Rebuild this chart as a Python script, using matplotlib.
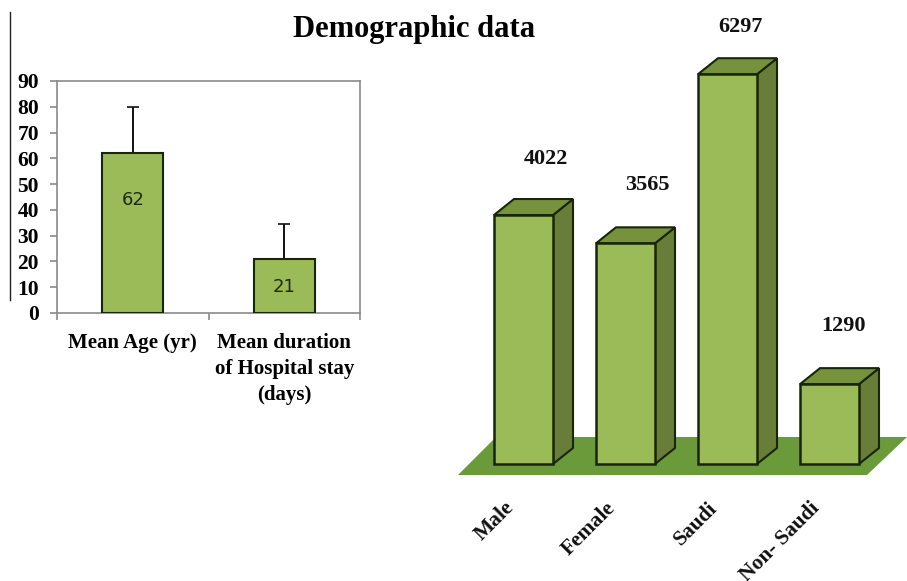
import matplotlib
matplotlib.use('Agg')
import matplotlib.pyplot as plt
from matplotlib.patches import Polygon
from matplotlib.lines import Line2D

plt.rcParams['font.family'] = ['Liberation Serif', 'DejaVu Serif']
plt.rcParams['font.weight'] = 'bold'

# mean values with upper error bars
mean_labels = ['Mean Age (yr)', 'Mean duration\nof Hospital stay\n(days)']
mean_values = [62, 21]
mean_errors = [18, 13.5]
mean_ticks = [0, 10, 20, 30, 40, 50, 60, 70, 80, 90]

# patient counts
count_labels = ['Male', 'Female', 'Saudi', 'Non- Saudi']
count_values = [4022, 3565, 6297, 1290]

W, H = 907, 581
FRONT = '#9bbb59'
SIDE = '#687d38'
TOP = '#76923c'
FLOOR = '#6b9a3b'
EDGE = '#17260a'
GRAY = '#8a8a8a'


def px_axes(fig, x0, y0, x1, y1):
    # axes from pixel box, y measured from the top of the image
    return fig.add_axes([x0 / W, 1 - y1 / H, (x1 - x0) / W, (y1 - y0) / H])


fig = plt.figure(figsize=(W / 100, H / 100), dpi=100)

# left chart
ax = px_axes(fig, 57, 81, 360, 313)
xs = range(len(mean_values))
ax.bar(xs, mean_values, width=0.4, color=FRONT, edgecolor=EDGE, linewidth=1.5, zorder=3)
ax.errorbar(xs, mean_values, yerr=[[0, 0], mean_errors], fmt='none', ecolor='#111111',
            elinewidth=1.4, capsize=4, capthick=1.2, zorder=2)
inside_y = [44, 10]
for x, v, y in zip(xs, mean_values, inside_y):
    ax.text(x, y, str(v), ha='center', va='center', fontsize=13,
            family='DejaVu Sans', weight='normal', color='#1c2a10', zorder=4)
ax.set_xlim(-0.5, 1.5)
ax.set_ylim(0, 90)
ax.set_yticks(mean_ticks)
ax.set_xticks(list(xs))
ax.set_xticklabels(mean_labels, fontsize=15, linespacing=1.38)
ax.set_xticks([-0.5, 0.5, 1.5], minor=True)
ax.tick_params(axis='x', which='major', length=0, pad=14.5)
ax.tick_params(axis='x', which='minor', length=5, color=GRAY, width=1.2)
ax.tick_params(axis='y', length=5, color=GRAY, width=1.2, labelsize=15.5, pad=8)
for s in ax.spines.values():
    s.set_color(GRAY)
    s.set_linewidth(1.2)

# stray rule at the far left
fig.add_artist(Line2D([10 / W, 10 / W], [1 - 12 / H, 1 - 300 / H], color='#222222', lw=1))

fig.text(414 / W, 1 - 29 / H, 'Demographic data', ha='center', va='center', fontsize=22)

# right chart: oblique bars, one category is 102 px wide, 0.0619 px per count
bx = px_axes(fig, 0, 0, W, H)
PX_X = 1 / 102
PX_Y = 1 / 0.0619
base_px = 464
bx.set_xlim(-523.5 * PX_X, (W - 523.5) * PX_X)
bx.set_ylim(-(H - base_px) * PX_Y, base_px * PX_Y)
bx.axis('off')
bx.patch.set_alpha(0)

half = 29.5 * PX_X
dx = 20 * PX_X
dy = 16 * PX_Y

n = len(count_values)
floor_front = -11 * PX_Y
floor_back = 27 * PX_Y
bx.add_patch(Polygon([(-half - 36 * PX_X, floor_front), (n - 1 + half + 8 * PX_X, floor_front),
                      (n - 1 + half + 48 * PX_X, floor_back), (-half + 2 * PX_X, floor_back)],
                     closed=True, facecolor=FLOOR, edgecolor='none', zorder=1))

label_gap = [56, 58, 47, 58]
label_shift = [22, 22, 13, 14]
for i, v in enumerate(count_values):
    l, r = i - half, i + half
    bx.add_patch(Polygon([(r, 0), (r + dx, dy), (r + dx, v + dy), (r, v)], closed=True,
                         facecolor=SIDE, edgecolor=EDGE, linewidth=1.5, zorder=2))
    bx.add_patch(Polygon([(l, v), (l + dx, v + dy), (r + dx, v + dy), (r, v)], closed=True,
                         facecolor=TOP, edgecolor=EDGE, linewidth=1.5, zorder=2))
    bx.add_patch(Polygon([(l, 0), (r, 0), (r, v), (l, v)], closed=True,
                         facecolor=FRONT, edgecolor=EDGE, linewidth=1.8, zorder=3))
    bx.text(i + label_shift[i] * PX_X, v + label_gap[i] * PX_Y, str(v), ha='center', va='center',
            fontsize=16, color='#111111')
    bx.text(i - 20 * PX_X, -34 * PX_Y, count_labels[i], ha='right', va='top', rotation=45,
            rotation_mode='anchor', fontsize=15.5, color='#111111')

fig.savefig('out.png', dpi=100)
